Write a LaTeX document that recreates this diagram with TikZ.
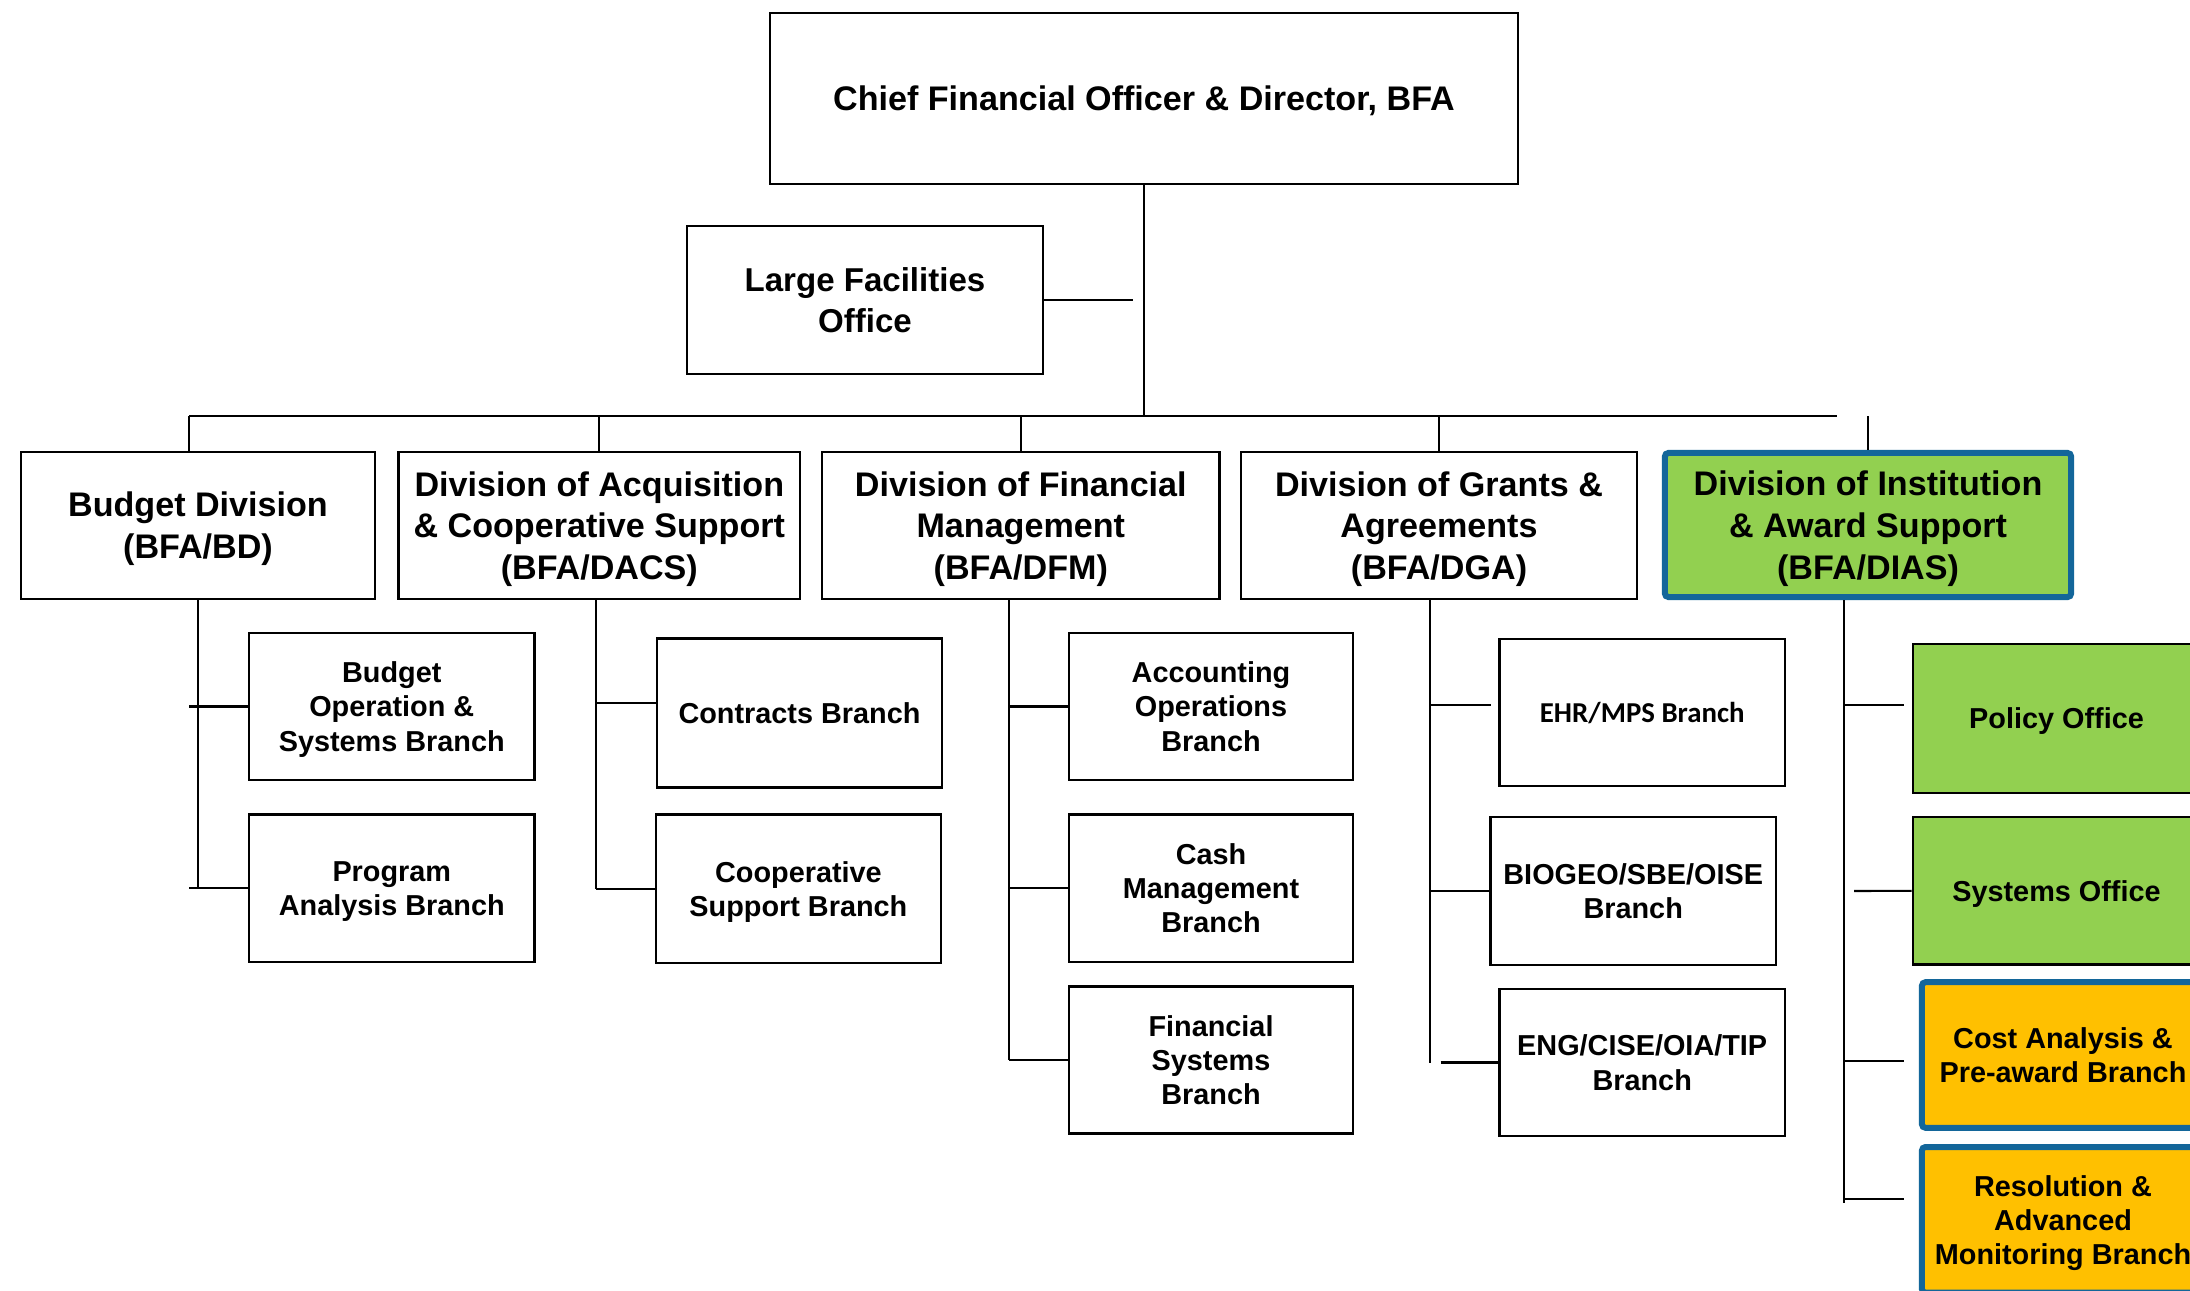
\documentclass[tikz,border=0pt]{standalone}
\usepackage{fontspec}
\setmainfont{Liberation Sans}
\newfontfamily\calibri{Carlito}
\definecolor{officegreen}{HTML}{92D050}
\definecolor{officeblue}{HTML}{13669A}
\definecolor{officegold}{HTML}{FFC000}

\begin{document}
\begin{tikzpicture}[x=0.01cm,y=-0.01cm,
		box/.style={draw,line width=0.7pt,inner sep=2pt,align=center,text depth=0pt,
				font=\bfseries\fontsize{8.2}{9.7}\selectfont},
		division/.style={box,font=\bfseries\fontsize{9.7}{11.9}\selectfont,minimum height=1.47cm},
		branch/.style={box,minimum width=2.85cm,minimum height=1.47cm},
		office/.style={branch,fill=officegreen,minimum width=2.87cm},
		review/.style={branch,fill=officegold,draw=officeblue,line width=1.7pt,
				rounded corners=1pt,minimum width=2.82cm,minimum height=1.455cm},
		link/.style={line width=0.6pt}
	]
	\useasboundingbox (0,0) rectangle (2190,1291);
	\clip (0,0) rectangle (2190,1291);

	% top of the chart
	\node[division,minimum width=7.48cm,minimum height=1.71cm] (cfo) at (1144,98.5) {Chief Financial Officer \& Director, BFA};
	\node[division,font=\bfseries\fontsize{9.4}{11.7}\selectfont,minimum width=3.555cm,minimum height=1.475cm] (lfo) at (865,300) {Large Facilities\\Office};

	\node[division,minimum width=3.54cm] (bd) at (198,525.5) {Budget Division\\(BFA/BD)};
	\node[division,minimum width=4.015cm] (dacs) at (599.3,525.5) {Division of Acquisition\\\& Cooperative Support\\(BFA/DACS)};
	\node[division,minimum width=3.976cm] (dfm) at (1020.8,525.5) {Division of Financial\\Management\\(BFA/DFM)};
	\node[division,minimum width=3.96cm] (dga) at (1439,525.5) {Division of Grants \&\\Agreements\\(BFA/DGA)};
	\node[division,fill=officegreen,draw=officeblue,line width=1.7pt,rounded corners=1pt,minimum width=4.06cm,minimum height=1.44cm] (dias) at (1868,525) {Division of Institution\\\& Award Support\\(BFA/DIAS)};

	% branches
	\node[branch] (bops) at (391.8,706.5) {Budget\\Operation \&\\Systems Branch};
	\node[branch] (prog) at (391.8,888.2) {Program\\Analysis Branch};

	\node[branch,minimum height=1.485cm] (contr) at (799.5,713) {Contracts Branch};
	\node[branch,minimum height=1.485cm] (coop) at (798.4,888.8) {Cooperative\\Support Branch};

	\node[branch,minimum width=2.84cm] (acct) at (1211,706.5) {Accounting\\Operations\\Branch};
	\node[branch,minimum width=2.84cm] (cash) at (1211,888.2) {Cash\\Management\\Branch};
	\node[branch,minimum width=2.84cm] (fsys) at (1211,1060) {Financial\\Systems\\Branch};

	\node[branch,font=\calibri\bfseries\fontsize{8.2}{9.7}\selectfont] (ehr) at (1642.2,712.4) {EHR/MPS Branch};
	\node[branch,minimum height=1.48cm] (bio) at (1633.2,891) {BIOGEO/SBE/OISE\\Branch};
	\node[branch] (eng) at (1642.2,1062.5) {ENG/CISE/OIA/TIP\\Branch};

	\node[office,minimum height=1.49cm] (pol) at (2056.5,718.5) {Policy Office};
	\node[office,minimum height=1.475cm] (sys) at (2056.5,890.8) {Systems Office};
	\node[review] (cost) at (2063,1055) {Cost Analysis \&\\Pre-award Branch};
	\node[review] (res) at (2063,1219.8) {Resolution \&\\Advanced\\Monitoring Branch};

	% bus under the director
	\coordinate (busw) at (189,416);
	\coordinate (buse) at (1837,416);
	\coordinate (lfoend) at (1133,300);
	\draw[link] (cfo.south) -- (cfo.south |- busw);
	\draw[link] (lfo.east) -- (lfoend);
	\draw[link] (busw) -- (buse);
	\draw[link] (busw) -- (busw |- bd.north);
	\foreach \d in {dacs,dfm,dga,dias} {
			\draw[link] (\d.north |- busw) -- (\d.north);
		}

	% spines of the divisions
	\coordinate (sdacs) at (595.6,0);
	\coordinate (sdfm) at (1008.8,0);
	\coordinate (sdga) at (1430,0);
	\coordinate (sdias) at (1843.8,0);

	\draw[link] (bd.south) -- (bd.south |- prog.west);
	\foreach \b in {bops,prog} {
			\draw[link] (busw |- \b.west) -- (\b.west);
		}

	\coordinate (contrin) at ([yshift=0.1cm]contr.west);
	\draw[link] (sdacs |- dacs.south) -- (sdacs |- coop.west);
	\draw[link] (sdacs |- contrin) -- (contrin);
	\draw[link] (sdacs |- coop.west) -- (coop.west);

	\draw[link] (sdfm |- dfm.south) -- (sdfm |- fsys.west);
	\foreach \b in {acct,cash,fsys} {
			\draw[link] (sdfm |- \b.west) -- (\b.west);
		}

	\coordinate (ehrtip) at (1490.7,705.3);
	\coordinate (engfrom) at (1440.6,1062.5);
	\draw[link] (sdga |- dga.south) -- (sdga |- engfrom);
	\draw[link] (sdga |- ehrtip) -- (ehrtip);
	\draw[link] (sdga |- bio.west) -- (bio.west);
	\draw[link] (engfrom) -- (eng.west);

	\coordinate (poltip) at (1904,705.3);
	\coordinate (costtip) at (1904,1061);
	\coordinate (restip) at (1904,1199.4);
	\coordinate (sysfrom) at (1854,891);
	\draw[link] (sdias |- dias.south) -- (sdias |- 0,1203);
	\foreach \t in {poltip,costtip,restip} {
			\draw[link] (sdias |- \t) -- (\t);
		}
	\draw[link] (sysfrom) -- (sys.west);

\end{tikzpicture}
\end{document}
